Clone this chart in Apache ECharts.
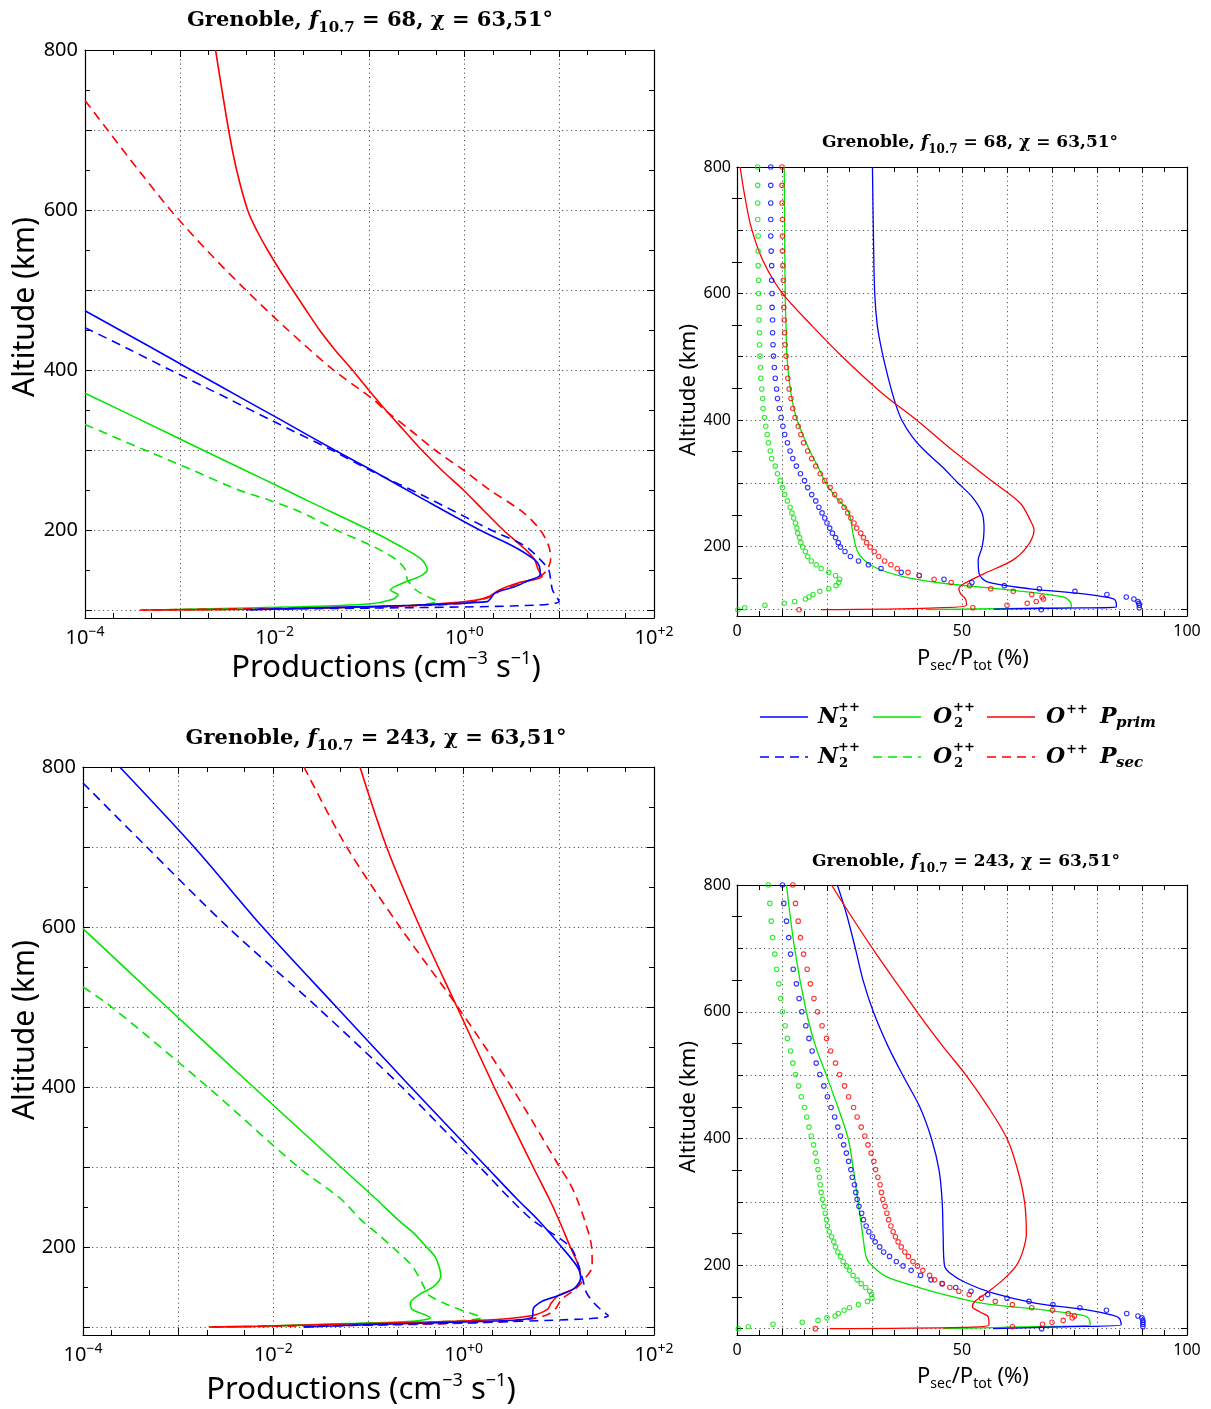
<!DOCTYPE html>
<html><head><meta charset="utf-8">
<script src="https://cdn.jsdelivr.net/npm/echarts@6.0.0/dist/echarts.min.js"></script>
<style>html,body{margin:0;padding:0;background:#fff}#c{width:1211px;height:1409px}</style>
</head><body><div id="c"></div>
<script>
// ---------------- DATA ----------------
// Productions, [altitude km, value cm^-3 s^-1]; f10.7 = 68 (top-left)
const tlN2Prim = [[474,1.0e-4],[430,4.68e-4],[400,1.32e-3],[363,4.79e-3],[338,1.15e-2],[300,4.27e-2],[275,0.105],[237,0.389],[200,1.45],[180,3.24],[163,5.50],[155,6.17],[144,6.31],[136,4.57],[129,3.39],[121,2.09],[115,1.91],[110.5,1.74],[106,0.309],[102,0.0174],[100,5.4e-3]];
const tlN2Sec  = [[453,1.0e-4],[425,3.02e-4],[400,7.94e-4],[363,3.39e-3],[338,8.91e-3],[300,3.98e-2],[275,0.100],[241,0.398],[200,1.91],[180,4.37],[163,6.31],[150,7.76],[138,8.13],[125,8.51],[117,9.33],[110.5,10.0],[106,5.50],[103,0.309],[101,6.6e-3],[100,5.0e-3]];
const tlO2Prim = [[371,1.0e-4],[338,3.80e-4],[300,1.74e-3],[275,4.79e-3],[254,1.12e-2],[237,2.19e-2],[200,0.100],[180,0.209],[163,0.355],[150,0.407],[142,0.339],[134,0.229],[125,0.166],[119,0.200],[113,0.174],[107.5,0.0977],[104,0.0174],[100,5.0e-4]];
const tlO2Sec  = [[332,1.0e-4],[300,4.27e-4],[275,1.35e-3],[250,4.17e-3],[237,8.91e-3],[222,1.91e-2],[200,4.47e-2],[180,0.107],[163,0.191],[150,0.240],[138,0.251],[125,0.309],[117,0.407],[110.5,0.525],[105,0.191],[102,0.0174],[100,1.0e-3]];
const tlOPrim  = [[800,2.38e-3],[700,3.27e-3],[650,3.97e-3],[600,5.18e-3],[575,6.44e-3],[550,8.41e-3],[525,1.13e-2],[500,1.55e-2],[475,2.14e-2],[450,2.97e-2],[425,4.33e-2],[400,6.60e-2],[375,0.098],[350,0.148],[325,0.229],[300,0.355],[275,0.575],[250,0.977],[225,1.58],[200,2.57],[176,4.37],[163,5.50],[150,6.03],[142,6.61],[134,3.72],[125,2.34],[117,1.82],[112,1.29],[107.5,0.50],[104,0.117],[101,6.6e-3],[100,4.0e-4]];
const tlOSec   = [[737,1.0e-4],[700,1.73e-4],[650,3.66e-4],[600,7.97e-4],[550,1.91e-3],[500,4.95e-3],[450,1.38e-2],[400,4.17e-2],[363,0.110],[350,0.145],[325,0.269],[300,0.490],[275,0.977],[250,1.86],[222,4.17],[200,6.31],[180,7.76],[163,8.13],[150,7.41],[142,6.31],[134,3.98],[125,2.45],[117,1.91],[110,1.17],[106,0.457],[103,0.0447],[100,3.8e-4]];

// f10.7 = 243 (bottom-left)
const blN2Prim = [[800,2.43e-4],[700,1.47e-3],[600,7.7e-3],[500,4.6e-2],[400,0.278],[300,1.74],[260,3.63],[234,6.03],[200,10.7],[176,15.5],[162,17.0],[149,14.8],[139,9.77],[132.5,6.76],[126,5.62],[122,5.37],[112,5.25],[107.5,2.14],[103.3,0.120],[100,2.1e-2]];
const blN2Sec  = [[780,1.0e-4],[700,4.68e-4],[600,3.31e-3],[500,2.88e-2],[400,0.224],[300,1.48],[260,3.09],[234,5.25],[200,13.2],[176,16.2],[160,17.8],[143,19.5],[130,23.4],[122,27.5],[114,33.1],[110,17.8],[105,0.832],[101.5,4.68e-2],[100,2.1e-2]];
const blO2Prim = [[598,1.0e-4],[500,7.59e-4],[400,6.17e-3],[300,5.13e-2],[260,0.120],[234,0.204],[218,0.295],[200,0.407],[188,0.50],[176,0.55],[164,0.575],[151,0.490],[141,0.347],[130,0.275],[122,0.288],[116,0.380],[111.7,0.447],[107.5,0.309],[104.6,7.41e-2],[101,6.8e-3],[100,2.1e-3]];
const blO2Sec  = [[525,1.0e-4],[500,2.0e-4],[400,2.04e-3],[300,1.82e-2],[260,5.13e-2],[234,8.32e-2],[218,0.120],[200,0.178],[176,0.288],[151,0.380],[141,0.417],[130,0.617],[120,1.0],[111.7,1.55],[107.5,0.832],[103.3,4.68e-2],[100,4.2e-3]];
const blOPrim  = [[800,8.13e-2],[700,0.155],[600,0.347],[500,0.851],[400,2.09],[300,5.37],[260,7.94],[234,10.0],[200,13.2],[176,16.2],[160,17.0],[149,14.8],[139,9.77],[130,8.32],[122,7.59],[114,5.13],[108.7,1.78],[104.6,0.120],[101,6.8e-3],[100,2.1e-3]];
const blOSec   = [[800,2.1e-2],[700,5.9e-2],[600,0.214],[500,0.867],[400,3.18],[300,10.2],[280,13.0],[260,15.5],[234,18.6],[200,22.1],[176,22.4],[160,18.6],[147,14.8],[134.6,10.7],[122,9.12],[114,7.08],[107.5,3.47],[103.3,0.309],[100,2.1e-3]];

// Psec/Ptot (%) curves, [altitude, percent]
const trN2 = [[800,30.1],[700,30.3],[600,30.6],[548,31.2],[516,32.0],[484,33.0],[453,34.1],[426,35.2],[400,36.6],[373,39.0],[352,41.6],[326,45.6],[301,49.0],[278,52.3],[252,54.5],[226,54.9],[200,54.5],[178,53.6],[157,53.8],[144,55.6],[133,65.2],[125,77.0],[117,83.7],[109,84.3],[104,84.3],[102.6,72.6],[101,57.1]];
const trO2 = [[800,10.5],[600,10.7],[548,10.9],[500,11.1],[442,12.0],[401,13.3],[352,16.1],[326,18.0],[301,19.7],[278,22.0],[257,24.6],[241,25.3],[215,25.9],[188,27.1],[167.5,30.5],[152,37.1],[141,46.7],[130.5,61.5],[120,72.6],[112,74.1],[104,74.3],[102,61.5],[100,42.3]];
const trO  = [[800,0.7],[759,1.6],[706,3.1],[653,5.7],[600,10.1],[548,16.8],[500,23.4],[442,32.3],[401,39.7],[352,47.9],[301,57.1],[268,63.0],[241,65.2],[226,66.0],[200,64.5],[178,61.2],[157,54.9],[141,50.4],[133,49.3],[125,49.7],[117,50.8],[107,51.0],[102.6,43.0],[100,18.6]];
const brN2 = [[800,22.3],[755,24.3],[700,26.3],[650,28.0],[600,30.3],[545,33.6],[499,36.9],[450,40.6],[400,43.2],[350,44.9],[300,45.6],[250,45.8],[200,46.1],[188,47.3],[172,51.0],[156,56.9],[140,66.5],[129,78.4],[121,83.6],[116,85.0],[106,85.4],[103,72.4],[100,56.9]];
const brO2 = [[800,11.0],[700,12.8],[600,15.4],[545,17.5],[499,19.9],[450,22.4],[400,24.7],[350,25.9],[300,26.9],[250,27.9],[213,28.7],[200,29.9],[182,33.2],[166,39.9],[153,46.5],[140,54.7],[129,68.7],[121,76.9],[116,78.2],[106,78.5],[103,65.0],[100,45.8]];
const brO  = [[800,21.0],[755,25.0],[700,30.1],[650,35.0],[600,40.0],[545,45.8],[499,51.0],[450,55.8],[400,60.0],[350,62.4],[300,63.9],[250,64.3],[224,63.6],[200,62.1],[177,59.1],[156,55.4],[142.5,52.8],[134.6,52.3],[126.7,53.9],[118.8,55.8],[105.6,56.0],[102,50.2],[100,20.6]];

// Dotted (circle) profiles: shared altitude grid
const dotAlt = [800,771,743,717,691,667,644,621,600,578,558,538,519,501,483,466,449,434,418,404,390,377,364,351,339,327,315,304,293,282,272,262,253,245,237,229,221,214,206,199,192,184,177,171,165,159,154,148,143,138,133,129,124,120,117,113,110,107,103,100];
const trN2Dots = [7.5,7.5,7.5,7.5,7.5,7.6,7.7,7.7,7.8,7.8,7.9,7.9,8.0,8.1,8.3,8.5,8.8,9.0,9.4,9.8,10.2,10.6,11.2,11.8,12.4,13.2,14.1,15.0,15.7,16.6,17.5,18.2,18.9,19.5,20.0,20.6,21.2,21.9,22.5,23.0,24.0,25.2,27.0,29.2,32.0,36.5,40.5,46.0,52.2,59.4,67.2,75.1,82.2,86.5,88.2,89.1,89.3,89.4,89.4,67.6];
const trODots  = [10.0,10.0,10.0,10.1,10.1,10.1,10.2,10.3,10.3,10.4,10.5,10.6,10.7,10.9,11.0,11.3,11.6,12.0,12.4,12.9,13.6,14.2,14.8,15.7,16.6,17.5,18.5,19.5,20.7,21.7,22.9,23.8,24.6,25.3,26.0,26.6,27.5,28.1,28.8,29.6,30.5,31.5,32.8,34.2,35.6,38.0,40.5,43.8,47.6,51.7,56.4,61.4,65.5,67.8,68.1,66.5,64.5,60.0,52.4,13.8];
const trO2Dots = [4.6,4.6,4.6,4.6,4.7,4.7,4.7,4.8,4.8,4.9,4.9,5.0,5.0,5.1,5.2,5.3,5.5,5.7,5.8,6.1,6.4,6.7,7.0,7.4,7.7,8.5,9.0,9.6,10.1,10.6,11.2,11.8,12.2,12.6,13.0,13.3,13.5,13.9,14.2,14.6,15.2,15.7,16.5,17.6,18.7,20.4,21.9,22.8,22.6,22.0,20.4,18.4,16.9,16.0,15.2,12.8,10.5,6.2,1.7,0.2];
const brN2Dots = [10.1,10.4,11.0,11.5,11.9,12.5,13.2,13.8,14.4,15.3,16.0,16.7,17.6,18.4,19.3,20.1,20.9,21.7,22.4,23.0,23.7,24.3,24.8,25.3,25.6,26.1,26.4,26.7,27.1,27.7,28.1,28.7,29.3,30.1,30.7,31.7,32.6,33.9,35.4,36.9,38.7,40.8,43.1,45.6,48.6,52.0,55.7,60.0,64.9,70.2,76.2,82.1,86.6,89.1,90.0,90.2,90.2,90.2,90.2,67.7];
const brODots  = [12.4,13.0,13.6,14.1,14.8,15.6,16.3,17.1,17.9,18.9,19.9,20.8,21.9,22.8,23.9,24.8,25.9,26.7,27.6,28.4,29.1,29.8,30.4,30.8,31.3,31.8,32.1,32.4,32.9,33.3,33.7,34.2,34.7,35.2,35.8,36.5,37.3,38.1,39.1,40.1,41.3,42.8,43.9,45.6,47.3,49.3,51.6,54.3,57.4,61.2,65.5,70.1,73.6,75.0,74.5,72.5,70.0,67.9,61.2,17.4];
const brO2Dots = [7.0,7.3,7.6,7.9,8.4,8.8,9.3,9.7,10.1,10.7,11.2,11.9,12.4,13.0,13.7,14.3,15.0,15.5,16.0,16.5,17.0,17.4,17.7,18.0,18.3,18.5,18.7,19.0,19.3,19.6,19.9,20.1,20.5,21.0,21.5,21.9,22.4,23.0,23.6,24.3,25.0,25.8,26.7,27.6,28.6,29.5,29.9,30.0,29.0,27.0,25.0,23.8,22.5,21.8,20.0,18.0,14.5,8.0,2.5,0.3];

// Axis ticks / labels
const altLabels = [200,400,600,800];
const altMajorTicks = [100,200,300,400,500,600,700,800];
const altMinorTicks = [150,250,350,450,550,650,750];
const logMinorTicks = [2e-4,5e-4,2e-3,5e-3,2e-2,5e-2,0.2,0.5,2,5,20,50];
const pctLabels = [0,50,100];
const station = 'Grenoble';
const f107 = [68, 243];
const chi = '63,51°';

// ---------------- CHART ----------------
const BLUE='#0000ff', GREEN='#00e600', RED='#ff0000';
const SANS = "'Noto Sans','Open Sans',sans-serif";
const SERIF = "'DejaVu Serif',serif";

const panels = [
  {grid:{left:85,top:50,width:569,height:568}, log:true, lab:20},
  {grid:{left:737,top:167,width:450,height:449}, log:false, lab:16},
  {grid:{left:83,top:767,width:571,height:568}, log:true, lab:20},
  {grid:{left:737,top:885,width:450,height:450}, log:false, lab:16}
];
const grids=[], xAxes=[], yAxes=[], mainX=[], mainY=[];
panels.forEach((p,gi)=>{
  grids.push(Object.assign({containLabel:false, outerBoundsMode:'none'}, p.grid));
  const axisLine={show:true,onZero:false,lineStyle:{color:'#000',width:1.2}};
  const tick={show:true,inside:true,length:p.log?7:6,lineStyle:{color:'#000',width:1}};
  const split={show:true,lineStyle:{color:'#555',width:1,type:[1.2,3.3]}};
  const xBase = p.log ? {type:'log',logBase:10,min:1e-4,max:100} : {type:'value',min:0,max:100,interval:10};
  const minor = p.log ? {show:false} : {show:true,splitNumber:2,length:5,lineStyle:{color:'#000',width:1}};
  mainX[gi]=xAxes.length;
  xAxes.push(Object.assign({}, xBase, {gridIndex:gi, position:'bottom', axisLine, axisTick:tick, minorTick:minor,
    splitLine:split, minorSplitLine:{show:false},
    axisLabel: p.log ? {
      show:true, margin:7, showMinLabel:true, showMaxLabel:true, color:'#000',
      formatter:(v)=>{const e=Math.round(Math.log10(v)); if(e%2!==0) return ''; return '{b|10}{s|'+(e<0?'−':'+')+Math.abs(e)+'}';},
      rich:{b:{fontSize:20,fontFamily:SANS,color:'#000',lineHeight:26}, s:{fontSize:14,fontFamily:SANS,color:'#000',verticalAlign:'top',lineHeight:14}}
    } : {
      show:true, margin:7, showMinLabel:true, showMaxLabel:true, color:'#000', fontSize:p.lab, fontFamily:SANS,
      formatter:(v)=> pctLabels.indexOf(v)>=0 ? String(v) : ''
    }}));
  xAxes.push(Object.assign({}, xBase, {gridIndex:gi, position:'top', axisLine, axisTick:tick, minorTick:minor,
    splitLine:{show:false}, axisLabel:{show:false}}));
  if (p.log) {
    ['bottom','top'].forEach(pos=>xAxes.push({type:'log',logBase:10,min:1e-4,max:100,gridIndex:gi,position:pos,
      axisLine:{show:false}, axisTick:{show:true,inside:true,length:5,customValues:logMinorTicks,lineStyle:{color:'#000'}},
      axisLabel:{show:false}, splitLine:{show:false}}));
  }
  mainY[gi]=yAxes.length;
  yAxes.push({type:'value',min:90,max:800,splitNumber:7,gridIndex:gi,position:'left',axisLine,
    axisTick:Object.assign({},tick,{customValues:altMajorTicks}), splitLine:split,
    axisLabel:{show:true,margin:p.log?7:6,color:'#000',fontSize:p.lab,fontFamily:SANS,
      formatter:(v)=> altLabels.indexOf(v)>=0 ? String(v) : ''}});
  yAxes.push({type:'value',min:90,max:800,splitNumber:7,gridIndex:gi,position:'right',axisLine,
    axisTick:Object.assign({},tick,{customValues:altMajorTicks}), splitLine:{show:false}, axisLabel:{show:false}});
  ['left','right'].forEach(pos=>yAxes.push({type:'value',min:90,max:800,gridIndex:gi,position:pos,
    axisLine:{show:false}, axisTick:{show:true,inside:true,length:5,customValues:altMinorTicks,lineStyle:{color:'#000'}},
    axisLabel:{show:false}, splitLine:{show:false}}));
});

const series=[];
function addLine(gi, pairs, color, dashed, width){
  series.push({type:'line', xAxisIndex:mainX[gi], yAxisIndex:mainY[gi],
    data:pairs.map(p=>[p[1],p[0]]), showSymbol:false, symbol:'none',
    smooth:0.3, clip:true, silent:true, z:3,
    lineStyle:{color, width, type: dashed?[9,6]:'solid'}});
}
function addDots(gi, vals, color){
  series.push({type:'scatter', xAxisIndex:mainX[gi], yAxisIndex:mainY[gi],
    data:dotAlt.map((a,i)=>[vals[i],a]), symbol:'circle', symbolSize:4.5, silent:true, z:4,
    itemStyle:{color:'rgba(0,0,0,0)', borderColor:color, borderWidth:1.1}});
}
addLine(0,tlO2Sec,GREEN,true,1.6); addLine(0,tlO2Prim,GREEN,false,1.6);
addLine(0,tlOSec,RED,true,1.6); addLine(0,tlOPrim,RED,false,1.6);
addLine(0,tlN2Sec,BLUE,true,1.6); addLine(0,tlN2Prim,BLUE,false,1.6);
addLine(2,blO2Sec,GREEN,true,1.6); addLine(2,blO2Prim,GREEN,false,1.6);
addLine(2,blOSec,RED,true,1.6); addLine(2,blOPrim,RED,false,1.6);
addLine(2,blN2Sec,BLUE,true,1.6); addLine(2,blN2Prim,BLUE,false,1.6);
addDots(1,trO2Dots,GREEN); addDots(1,trN2Dots,BLUE); addDots(1,trODots,RED);
addLine(1,trO2,GREEN,false,1.3); addLine(1,trN2,BLUE,false,1.3); addLine(1,trO,RED,false,1.3);
addDots(3,brO2Dots,GREEN); addDots(3,brN2Dots,BLUE); addDots(3,brODots,RED);
addLine(3,brO2,GREEN,false,1.3); addLine(3,brN2,BLUE,false,1.3); addLine(3,brO,RED,false,1.3);

// ---------------- TEXT (titles, axis names, legend) ----------------
const G=[];
function text(x,y,str,rich,extra){
  G.push(Object.assign({type:'text', x, y, silent:true, z:10,
    style:{text:str, rich, align:'center', verticalAlign:'middle', textAlign:'center', textVerticalAlign:'middle', fill:'#000'}}, extra||{}));
}
function titleRich(size, sub){
  return {a:{fontFamily:SERIF,fontWeight:'bold',fontSize:size,fill:'#000',lineHeight:size+8},
          f:{fontFamily:SERIF,fontWeight:'bold',fontStyle:'italic',fontSize:size,fill:'#000',lineHeight:size+8},
          s:{fontFamily:SERIF,fontWeight:'bold',fontSize:sub,fill:'#000',verticalAlign:'bottom',lineHeight:sub}};
}
function titleStr(f){ return '{a|'+station+', }{f|f}{s|10.7}{a| = '+f+', χ = '+chi+'}'; }
text(370,21,titleStr(f107[0]),titleRich(21,15));
text(970,143,titleStr(f107[0]),titleRich(17,12));
text(376,739,titleStr(f107[1]),titleRich(21,15));
text(966,862,titleStr(f107[1]),titleRich(17,12));

const altRich=(s)=>({t:{fontFamily:SANS,fontSize:s,fill:'#000'}});
text(25,307,'{t|Altitude (km)}',altRich(30),{rotation:Math.PI/2});
text(25,1030,'{t|Altitude (km)}',altRich(30),{rotation:Math.PI/2});
text(689,390,'{t|Altitude (km)}',altRich(22),{rotation:Math.PI/2});
text(689,1107,'{t|Altitude (km)}',altRich(22),{rotation:Math.PI/2});

const prodRich={t:{fontFamily:SANS,fontSize:31,fill:'#000',lineHeight:36},u:{fontFamily:SANS,fontSize:18,fill:'#000',verticalAlign:'top',lineHeight:18}};
const prodStr='{t|Productions (cm}{u|−3}{t| s}{u|−1}{t|)}';
text(386,668,prodStr,prodRich);
text(361,1390,prodStr,prodRich);
const pctRich={t:{fontFamily:SANS,fontSize:22,fill:'#000',lineHeight:28},d:{fontFamily:SANS,fontSize:14,fill:'#000',verticalAlign:'bottom',lineHeight:14}};
const pctStr='{t|P}{d|sec}{t|/P}{d|tot}{t| (%)}';
text(973,659,pctStr,pctRich);
text(973,1377,pctStr,pctRich);

// legend
const legendSpecies = [
  {name:'N', sub:'2', color:BLUE, x0:760, tx:818},
  {name:'O', sub:'2', color:GREEN, x0:873, tx:933},
  {name:'O', sub:'', color:RED, x0:987, tx:1046}
];
const legendRows = [{y:717, dashed:false, p:'prim'},{y:757, dashed:true, p:'sec'}];
const bigI={fontFamily:SERIF,fontWeight:'bold',fontStyle:'italic',fontSize:22,fill:'#000'};
const small={fontFamily:SERIF,fontWeight:'bold',fontSize:13,fill:'#000'};
function ltext(x,y,str,st,align){
  G.push({type:'text',x,y,silent:true,z:10,style:Object.assign({text:str,align:align||'left',verticalAlign:'middle',textAlign:align||'left',textVerticalAlign:'middle'},st)});
}
legendRows.forEach(r=>{
  legendSpecies.forEach(s=>{
    G.push({type:'line',silent:true,z:10,shape:{x1:s.x0,y1:r.y,x2:s.x0+48,y2:r.y},
      style:{stroke:s.color,lineWidth:1.6,lineDash:r.dashed?[9,6]:null}});
    ltext(s.tx,r.y,s.name,bigI);
    if (s.sub) { ltext(s.tx+20,r.y-9,'++',small); ltext(s.tx+21,r.y+7,s.sub,small); }
    else { ltext(s.tx+20,r.y-7,'++',small); }
  });
  ltext(1100,r.y,'P',bigI);
  ltext(1116,r.y+6,r.p,Object.assign({},small,{fontStyle:'italic',fontSize:15}));
});

const chart = echarts.init(document.getElementById('c'), null, {renderer:'canvas'});
chart.setOption({
  animation:false, backgroundColor:'#fff',
  grid:grids, xAxis:xAxes, yAxis:yAxes, series, graphic:{elements:G}
});
</script></body></html>
